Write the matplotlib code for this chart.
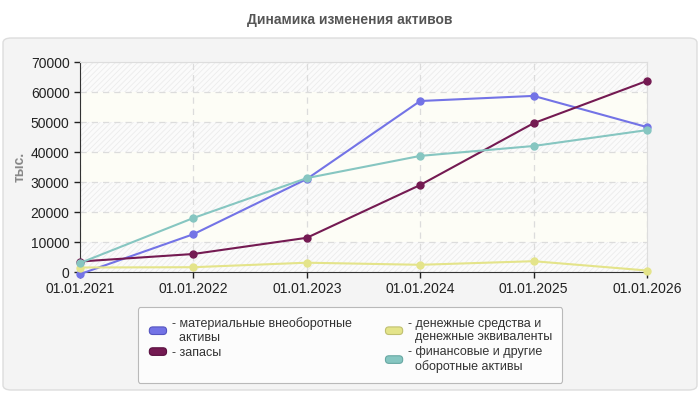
import matplotlib
matplotlib.use("Agg")
import matplotlib.pyplot as plt
from matplotlib.patches import FancyBboxPatch, Patch
from matplotlib.legend_handler import HandlerPatch

plt.rcParams['font.family'] = ['Liberation Sans', 'DejaVu Sans']
plt.rcParams['hatch.linewidth'] = 0.6

dates = ["01.01.2021", "01.01.2022", "01.01.2023", "01.01.2024", "01.01.2025", "01.01.2026"]
fixed_assets = [-700, 12600, 31000, 57000, 58700, 48300]
inventory = [3500, 6000, 11400, 29000, 49600, 63700]
cash = [1500, 1600, 3100, 2400, 3600, 500]
financial = [3000, 18000, 31300, 38700, 42000, 47300]

labels = ["- материальные внеоборотные\n  активы", "- запасы",
          "- денежные средства и\n  денежные эквиваленты", "- финансовые и другие\n  оборотные активы"]
colors = ["#7373e6", "#741a52", "#e4e48a", "#86c6c1"]
edges = ["#5555c0", "#5a1040", "#c0c070", "#68a8a3"]
yticks = list(range(0, 70001, 10000))


class RoundBox(HandlerPatch):
    def create_artists(self, legend, orig_handle, xdescent, ydescent, width, height, fontsize, trans):
        p = FancyBboxPatch((-xdescent + 1, -ydescent + 1), width - 2, height - 2,
                           boxstyle="round,pad=0,rounding_size=2.5",
                           facecolor=orig_handle.get_facecolor(),
                           edgecolor=orig_handle.get_edgecolor(), linewidth=0.8, transform=trans)
        return [p]


fig = plt.figure(figsize=(7, 4), dpi=100)
fig.patch.set_facecolor("white")

panel = FancyBboxPatch((3 / 700, 10 / 400), 694 / 700, 352 / 400,
                       boxstyle="round,pad=0,rounding_size=0.012",
                       transform=fig.transFigure, facecolor="#f4f4f4",
                       edgecolor="#dddddd", linewidth=1, zorder=-5)
fig.patches.append(panel)

fig.text(0.5, 1 - 20 / 400, "Динамика изменения активов", ha="center", va="center",
         fontsize=10, fontweight="bold", color="#555555")

ax = fig.add_axes([80 / 700, 128 / 400, 567 / 700, 210 / 400])
ax.set_facecolor("#fdfdf6")

# alternating bands
for i in range(len(yticks) - 1):
    if i % 2 == 0:
        ax.axhspan(yticks[i], yticks[i + 1], facecolor="#fbfbfb", edgecolor="#ececec",
                   hatch="//////", linewidth=0, zorder=0)

x = list(range(len(dates)))
for ys, c in zip([fixed_assets, inventory, cash, financial], colors):
    ax.plot(x, ys, color=c, linewidth=1.5, marker="o", markersize=5, clip_on=False, zorder=3)

ax.set_xlim(0, len(dates) - 1)
ax.set_ylim(0, 70000)
ax.set_xticks(x)
ax.set_xticklabels(dates)
ax.set_yticks(yticks)
ax.tick_params(labelsize=10, colors="#222222", length=4, width=1)
ax.grid(True, color="#dcdcdc", linestyle=(0, (5, 4)), linewidth=0.9, zorder=1)
ax.set_axisbelow(True)
for s in ["top", "right"]:
    ax.spines[s].set_color("#dddddd")
for s in ["left", "bottom"]:
    ax.spines[s].set_color("#333333")
ax.set_ylabel("тыс.", fontsize=10, fontweight="bold", color="#888888", labelpad=3)

handles = [Patch(facecolor=c, edgecolor=e) for c, e in zip(colors, edges)]
leg = fig.legend(handles, labels, ncol=2, loc="center", bbox_to_anchor=(350 / 700, 1 - 345 / 400),
                 handler_map={Patch: RoundBox()}, fontsize=9, frameon=True, fancybox=True,
                 edgecolor="#aaaaaa", facecolor="white", handlelength=1.6, handleheight=0.9,
                 handletextpad=0.3, columnspacing=2.6, labelspacing=0.2, borderpad=0.8)
leg.get_frame().set_linewidth(0.8)
for t in leg.get_texts():
    t.set_color("#333333")

fig.savefig("out.png", dpi=100)
